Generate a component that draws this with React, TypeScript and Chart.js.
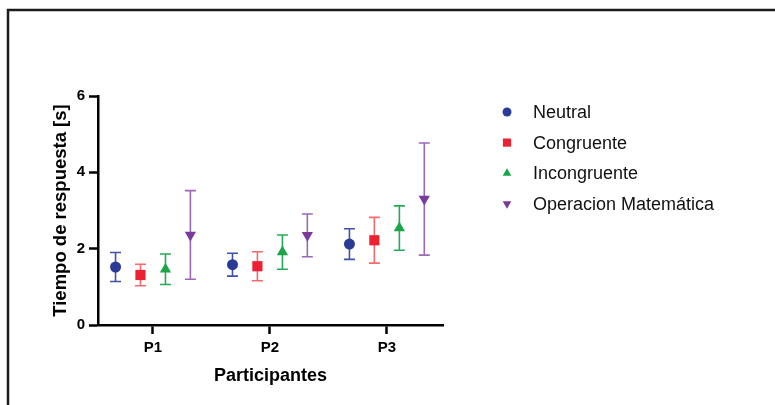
import React, { useEffect, useRef } from 'react';
import { Chart, registerables } from 'chart.js';
import { drawPoint } from 'chart.js/helpers';

Chart.register(...registerables);

// Response time per participant: mean and standard deviation (seconds)
const participants = ['P1', 'P2', 'P3'];
const seriesNames = ['Neutral', 'Congruente', 'Incongruente', 'Operacion Matemática'];

const neutralMean = [1.52, 1.58, 2.12];
const neutralSd = [0.38, 0.30, 0.40];
const congruenteMean = [1.31, 1.54, 2.22];
const congruenteSd = [0.28, 0.38, 0.60];
const incongruenteMean = [1.46, 1.91, 2.54];
const incongruenteSd = [0.40, 0.45, 0.58];
const operacionMean = [2.36, 2.35, 3.30];
const operacionSd = [1.16, 0.56, 1.47];

const yTicks = [0, 2, 4, 6];

const FONT = "'Liberation Sans', Arial, Helvetica, sans-serif";

// Visual style of each series
const styles = [
  { marker: '#2b3a97', bar: '#4151a9', pointStyle: 'circle', radius: 5.5, rotation: 0, legendRadius: 4.5 },
  { marker: '#ec2232', bar: '#f26a6c', pointStyle: 'rect', radius: 7.2, rotation: 0, legendRadius: 5.8 },
  { marker: '#1ba44a', bar: '#25ab55', pointStyle: 'triangle', radius: 6.5, rotation: 0, legendRadius: 5 },
  { marker: '#7a3a9b', bar: '#9a69ba', pointStyle: 'triangle', radius: 6.5, rotation: 180, legendRadius: 5 },
];

// Horizontal shift of each series inside a participant group (axis units)
const groupOffsets = [-0.32, -0.107, 0.107, 0.32];

const means = [neutralMean, congruenteMean, incongruenteMean, operacionMean];
const sds = [neutralSd, congruenteSd, incongruenteSd, operacionSd];

const datasets = seriesNames.map((name, s) => ({
  label: name,
  data: participants.map((_, i) => ({ x: i + 1 + groupOffsets[s], y: means[s][i], sd: sds[s][i] })),
  backgroundColor: styles[s].marker,
  borderColor: styles[s].marker,
  borderWidth: 0,
  pointStyle: styles[s].pointStyle,
  pointRadius: styles[s].radius,
  pointHoverRadius: styles[s].radius,
  rotation: styles[s].rotation,
}));

const framePlugin = {
  id: 'frame',
  beforeDraw(chart: any) {
    const { ctx, width, height } = chart;
    ctx.save();
    ctx.fillStyle = '#ffffff';
    ctx.fillRect(0, 0, width, height);
    ctx.strokeStyle = '#1c1c1c';
    ctx.lineWidth = 2.5;
    ctx.beginPath();
    ctx.moveTo(8, height);
    ctx.lineTo(8, 10);
    ctx.lineTo(width, 10);
    ctx.stroke();
    ctx.restore();
  },
};

const errorBarPlugin = {
  id: 'errorBars',
  beforeDatasetsDraw(chart: any) {
    const { ctx } = chart;
    const yScale = chart.scales.y;
    const cap = 5.5;
    chart.data.datasets.forEach((ds: any, di: number) => {
      const meta = chart.getDatasetMeta(di);
      ctx.save();
      ctx.strokeStyle = styles[di].bar;
      ctx.lineWidth = 1.6;
      meta.data.forEach((pt: any, i: number) => {
        const d = ds.data[i];
        const x = pt.x;
        const top = yScale.getPixelForValue(d.y + d.sd);
        const bottom = yScale.getPixelForValue(d.y - d.sd);
        ctx.beginPath();
        ctx.moveTo(x, top);
        ctx.lineTo(x, bottom);
        ctx.moveTo(x - cap, top);
        ctx.lineTo(x + cap, top);
        ctx.moveTo(x - cap, bottom);
        ctx.lineTo(x + cap, bottom);
        ctx.stroke();
      });
      ctx.restore();
    });
  },
};

const legendPlugin = {
  id: 'sideLegend',
  afterDraw(chart: any) {
    const { ctx } = chart;
    const markerX = 507;
    const textX = 533;
    const firstY = 112;
    const step = 30.6;
    ctx.save();
    ctx.font = `18px ${FONT}`;
    ctx.textBaseline = 'middle';
    ctx.textAlign = 'left';
    chart.data.datasets.forEach((ds: any, di: number) => {
      const y = firstY + di * step;
      ctx.fillStyle = styles[di].marker;
      ctx.strokeStyle = styles[di].marker;
      ctx.lineWidth = 0;
      drawPoint(ctx, { pointStyle: styles[di].pointStyle, radius: styles[di].legendRadius, rotation: styles[di].rotation, borderWidth: 0 } as any, markerX, y);
      ctx.fillStyle = '#111111';
      ctx.fillText(ds.label, textX, y + 1);
    });
    ctx.restore();
  },
};

export default function App() {
  const canvasRef = useRef<HTMLCanvasElement>(null);

  useEffect(() => {
    if (!canvasRef.current) return;
    const chart = new Chart(canvasRef.current, {
      type: 'scatter',
      data: { datasets: datasets as any },
      options: {
        animation: false,
        responsive: true,
        maintainAspectRatio: false,
        layout: { padding: { left: 0, top: 96, right: 332, bottom: 0 } },
        plugins: {
          legend: { display: false },
          tooltip: { enabled: false },
        },
        scales: {
          x: {
            type: 'linear',
            min: 0.53,
            max: 3.48,
            afterFit(scale: any) {
              scale.height = 80;
            },
            afterBuildTicks(scale: any) {
              scale.ticks = participants.map((_, i) => ({ value: i + 1 }));
            },
            ticks: {
              callback: (v: any) => participants[Math.round(Number(v)) - 1] ?? '',
              color: '#000',
              font: { family: FONT, size: 15, weight: 'bold' },
              padding: 5,
              maxRotation: 0,
            },
            grid: {
              drawOnChartArea: false,
              drawTicks: true,
              tickLength: 9,
              tickWidth: 2.5,
              tickColor: '#000',
            },
            border: { display: true, color: '#000', width: 2.5 },
            title: {
              display: true,
              text: 'Participantes',
              color: '#000',
              font: { family: FONT, size: 18, weight: 'bold' },
              padding: { top: 0, bottom: 18 },
            },
          },
          y: {
            type: 'linear',
            min: 0,
            max: 6,
            afterFit(scale: any) {
              scale.width = 98;
            },
            afterBuildTicks(scale: any) {
              scale.ticks = yTicks.map((v) => ({ value: v }));
            },
            ticks: {
              color: '#000',
              font: { family: FONT, size: 15, weight: 'bold' },
              padding: 4,
            },
            grid: {
              drawOnChartArea: false,
              drawTicks: true,
              tickLength: 9,
              tickWidth: 2.5,
              tickColor: '#000',
            },
            border: { display: true, color: '#000', width: 2.5 },
            title: {
              display: true,
              text: 'Tiempo de respuesta [s]',
              color: '#000',
              font: { family: FONT, size: 18.5, weight: 'bold' },
              padding: { top: 50, bottom: 0 },
            },
          },
        },
      },
      plugins: [framePlugin, errorBarPlugin, legendPlugin],
    });
    return () => chart.destroy();
  }, []);

  return (
    <div style={{ position: 'fixed', left: 0, top: 0, width: 775, height: 405, background: '#fff' }}>
      <canvas ref={canvasRef} />
    </div>
  );
}
